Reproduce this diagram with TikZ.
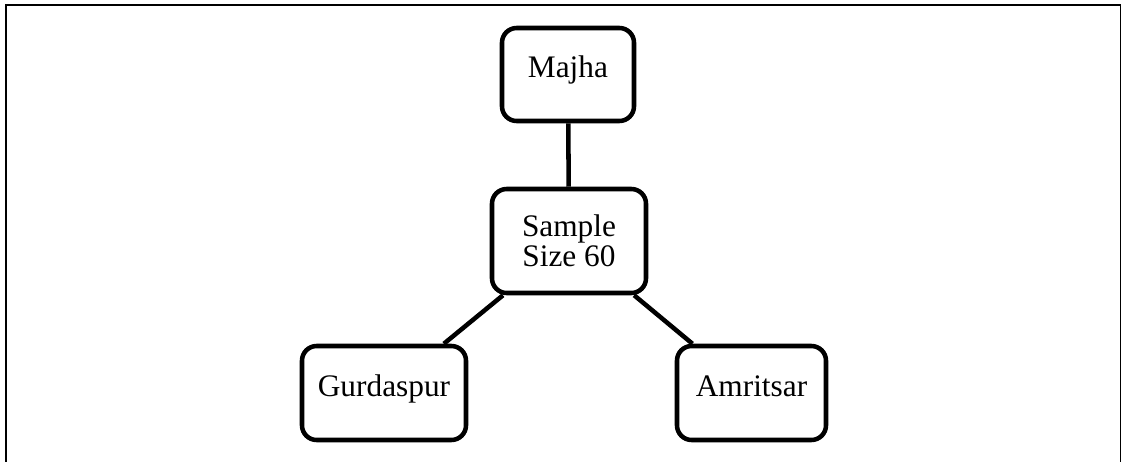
\documentclass[tikz,border=0pt]{standalone}
\usepackage{fontspec}
\setmainfont{Liberation Serif}

\begin{document}
\begin{tikzpicture}[x=0.75pt, y=-0.75pt,
  region/.style={draw, line width=3.4pt, rounded corners=11pt, fill=white,
    inner sep=0pt, align=center, font=\fontsize{23.5}{22.5}\selectfont},
  oneline/.style={text height=0.68em, text depth=0.22em}]
\useasboundingbox (0,0) rectangle (1121,461);
\draw[line width=1.5pt] (5.5,470) -- (5.5,4.5) -- (1120.5,4.5) -- (1120.5,470);

\node[region, oneline, minimum width=99pt, minimum height=69.75pt] (majha) at (568,74.5) {Majha};
\node[region, minimum width=115.5pt, minimum height=78pt] (sample) at (569,241) {Sample\\Size 60};
\node[region, oneline, minimum width=123pt, minimum height=70.5pt] (gurd) at (384,393) {Gurdaspur};
\node[region, oneline, minimum width=111.75pt, minimum height=70.5pt] (amrit) at (751.5,393) {Amritsar};

\draw[line width=3.4pt] (majha) -- (sample);
\draw[line width=3.4pt] (sample) -- (gurd);
\draw[line width=3.4pt] (sample) -- (amrit);

\end{tikzpicture}
\end{document}
